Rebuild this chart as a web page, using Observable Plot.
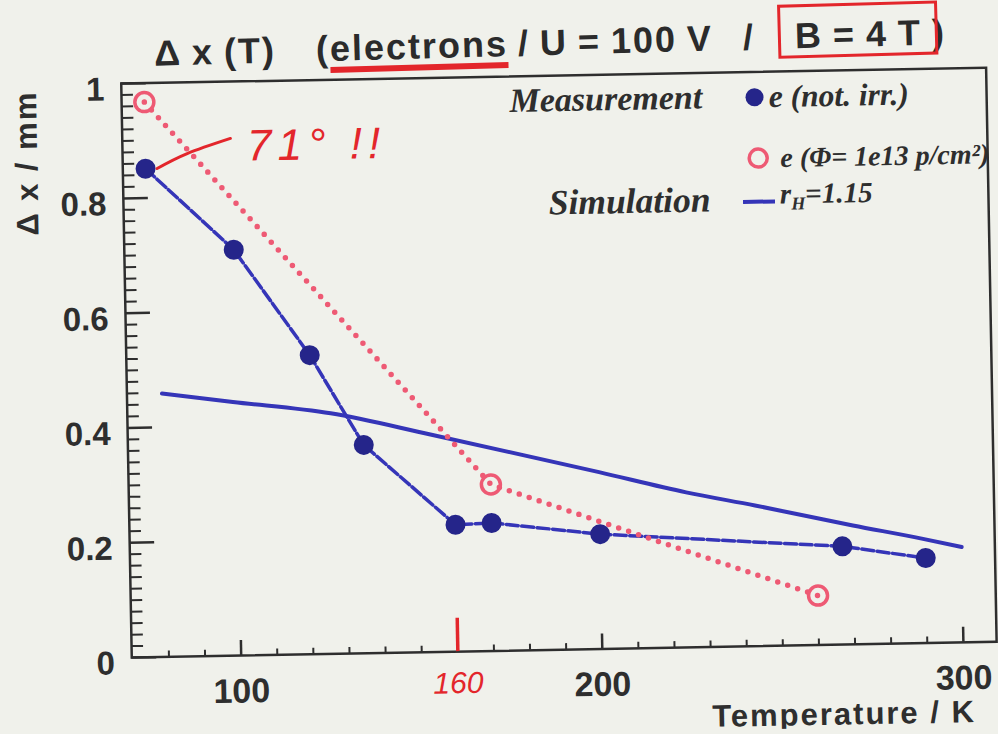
<!DOCTYPE html>
<html>
<head>
<meta charset="utf-8">
<script src="https://cdn.jsdelivr.net/npm/d3@7"></script>
<script src="https://cdn.jsdelivr.net/npm/@observablehq/plot@0.6"></script>
<style>
  html, body { margin: 0; padding: 0; background: #f0f1eb; }
  #page { position: relative; width: 998px; height: 734px; overflow: hidden;
          transform: rotate(-1.05deg); transform-origin: 499px 367px; }
  #title { position: absolute; left: 0; top: 0; width: 998px; height: 70px;
           transform: rotate(-0.5deg); transform-origin: 551px 56px; }
  #title .t { position: absolute; left: 160px; top: 25.5px; white-space: pre;
              font: bold 36px "Liberation Sans", Arial, sans-serif; line-height: 36px;
              letter-spacing: 2px; word-spacing: -2px; color: #2b2b2b; }
  #title .u { text-decoration: underline; text-decoration-color: #e3262b;
              text-decoration-thickness: 6px; text-underline-offset: 6px; }
  #title .box { position: relative; }
  #title .box::before { content: ""; position: absolute; left: -17px; right: -16px;
                        top: -11px; bottom: -2px; border: 3px solid #e3262b; }
  #chart { position: absolute; left: 0; top: 70px; }
</style>
</head>
<body>
<div id="page">
  <div id="title"><span class="t">Δ x (T)    (<span class="u">electrons</span> / U = 100 V   /    <span class="box">B = 4 T</span> )</span></div>
  <div id="chart"></div>
</div>
<script>
// Measurement, non-irradiated sensor (filled dots, dashed line)
const blueT  = [76, 100, 120.5, 135, 160, 170, 200, 267, 290];
const blueDx = [0.851, 0.707, 0.521, 0.363, 0.221, 0.223, 0.200, 0.171, 0.148];

// Measurement, irradiated sensor Φ = 1e13 p/cm² (open circles, dotted line)
const redT  = [76, 170, 260];
const redDx = [0.967, 0.290, 0.086];

// Simulation with Hall factor r_H = 1.15 (solid line)
const simT  = [79.4, 99, 126, 153.5, 200, 224, 243, 270, 289, 300];
const simDx = [0.459, 0.442, 0.419, 0.379, 0.308, 0.270, 0.245, 0.207, 0.182, 0.166];

// Axis ticks and labels
const xMajor = [100, 200, 300];
const xMinor = d3.range(80, 301, 10).filter(t => t % 100 !== 0);
const yMajor = [0, 0.2, 0.4, 0.6, 0.8, 1];
const yMajorLabels = ["0", "0.2", "0.4", "0.6", "0.8", "1"];
const yMinor = d3.range(0, 51).map(i => i / 50).filter(v => Math.round(v * 50) % 10 !== 0);

// Handwritten remarks
const noteMark  = [{T: 160, y1: 0, y2: 0.058}];
const noteLabel = [{T: 160, text: "160"}];
const noteText  = [{T: 104.2, dx: 0.862, text: "71° !!"}];
const noteCurveT  = [79.2, 87.6, 99.65];
const noteCurveDx = [0.851, 0.876, 0.901];

const blue = d3.zip(blueT, blueDx).map(([T, v]) => ({T, v}));
const red  = d3.zip(redT, redDx).map(([T, v]) => ({T, v}));
const sim  = d3.zip(simT, simDx).map(([T, v]) => ({T, v}));
const noteCurve = d3.zip(noteCurveT, noteCurveDx).map(([T, v]) => ({T, v}));

const ink = "#2e2e2e";
const blueLine = "#3535b8";
const blueDot = "#25258a";
const pink = "#ee5a74";
const pen = "#e3262b";
const sans = "Liberation Sans, Arial, sans-serif";
const serif = "Liberation Serif, Times New Roman, serif";

const W = 998, H = 664;
const mL = 126, mR = 7, mT = 6.2, mB = 83.7;
const plotW = W - mL - mR, plotH = H - mT - mB;

const chart = Plot.plot({
  width: W, height: H,
  marginLeft: mL, marginRight: mR, marginTop: mT, marginBottom: mB,
  style: {background: "transparent", fontFamily: sans, overflow: "visible"},
  x: {domain: [69.7, 309.2], axis: null},
  y: {domain: [0, 1], axis: null},
  marks: [
    // inward ticks
    Plot.tickX(xMinor, {x: d => d, insetTop: plotH - 6, stroke: ink, strokeWidth: 2}),
    Plot.tickX(xMajor, {x: d => d, insetTop: plotH - 15, stroke: ink, strokeWidth: 2.5}),
    Plot.tickY(yMinor, {y: d => d, insetRight: plotW - 12, stroke: ink, strokeWidth: 2}),
    Plot.tickY(yMajor, {y: d => d, insetRight: plotW - 25, stroke: ink, strokeWidth: 2.5}),
    Plot.frame({stroke: ink, strokeWidth: 2.5}),

    // tick labels
    Plot.text(xMajor, {x: d => d, text: d => String(d), frameAnchor: "bottom", dy: 36,
      lineAnchor: "middle", fontSize: 34, fontWeight: "bold", fill: ink}),
    Plot.text(yMajor, {y: d => d, text: (d, i) => yMajorLabels[i], frameAnchor: "left", dx: -17, dy: 6,
      textAnchor: "end", lineAnchor: "middle", fontSize: 33, fontWeight: "bold", fill: ink}),

    // axis titles
    Plot.text(["Temperature / K"], {frameAnchor: "bottom-right", dx: -22, dy: 70,
      textAnchor: "end", lineAnchor: "middle", fontSize: 31, fontWeight: "bold", fill: ink}),
    Plot.text(["Δ x / mm"], {frameAnchor: "top-left", dx: -85.5, dy: 150.5, rotate: -90,
      textAnchor: "start", lineAnchor: "bottom", fontSize: 31, fontWeight: "bold", fill: ink}),

    // simulation
    Plot.line(sim, {x: "T", y: "v", curve: "monotone-x", stroke: blueLine, strokeWidth: 4}),
    // measurements
    Plot.line(blue, {x: "T", y: "v", stroke: blueLine, strokeWidth: 3.5, strokeDasharray: "12,3.5"}),
    Plot.line(red, {x: "T", y: "v", stroke: pink, strokeWidth: 5.5, strokeDasharray: "0,10.5", strokeLinecap: "round"}),
    Plot.dot(blue, {x: "T", y: "v", r: 10, fill: blueDot}),
    Plot.dot(red, {x: "T", y: "v", r: 9.5, fill: "none", stroke: pink, strokeWidth: 3.5}),

    // legend
    Plot.text(["Measurement"], {frameAnchor: "top-left", dx: 580.6, dy: 35.5, textAnchor: "end",
      lineAnchor: "bottom", fontFamily: serif, fontStyle: "italic", fontWeight: "bold", fontSize: 34, fill: ink}),
    Plot.dot([0], {frameAnchor: "top-left", dx: 632.9, dy: 25.2, r: 9, fill: blueDot}),
    Plot.text(["e (not. irr.)"], {frameAnchor: "top-left", dx: 647.2, dy: 35.4, textAnchor: "start",
      lineAnchor: "bottom", fontFamily: serif, fontStyle: "italic", fontWeight: "bold", fontSize: 31.5, fill: ink}),
    Plot.dot([0], {frameAnchor: "top-left", dx: 635.5, dy: 86.2, r: 9, fill: "none", stroke: pink, strokeWidth: 3.5}),
    Plot.text(["e (Φ= 1e13 p/cm²)"], {frameAnchor: "top-left", dx: 657.7, dy: 95.6, textAnchor: "start",
      lineAnchor: "bottom", fontFamily: serif, fontStyle: "italic", fontWeight: "bold", fontSize: 28, fill: ink}),
    Plot.text(["Simulation"], {frameAnchor: "top-left", dx: 587, dy: 138.7, textAnchor: "end",
      lineAnchor: "bottom", fontFamily: serif, fontStyle: "italic", fontWeight: "bold", fontSize: 35.5, fill: ink}),

    // handwritten remarks
    Plot.ruleX(noteMark, {x: "T", y1: "y1", y2: "y2", stroke: pen, strokeWidth: 3.5}),
    Plot.text(noteLabel, {x: "T", text: "text", frameAnchor: "bottom", dy: 32, lineAnchor: "middle",
      fontSize: 30, fontStyle: "italic", fill: pen}),
    Plot.line(noteCurve, {x: "T", y: "v", curve: "natural", stroke: pen, strokeWidth: 3}),
    Plot.text(noteText, {x: "T", y: "dx", text: "text", textAnchor: "start", lineAnchor: "bottom",
      fontSize: 44, fontStyle: "italic", fill: pen})
  ]
});

const svg = d3.select(chart);
svg.selectAll("text").filter(function () { return this.textContent === "Δ x / mm"; })
  .style("letter-spacing", "2px");
svg.selectAll("text").filter(function () { return this.textContent === "Temperature / K"; })
  .style("letter-spacing", "2px");
svg.selectAll("text").filter(function () { return this.textContent === "71° !!"; })
  .style("letter-spacing", "6px");

// legend swatch and label for the simulation curve
const lg = svg.append("g");
lg.append("line")
  .attr("x1", mL + 620).attr("x2", mL + 652)
  .attr("y1", mT + 130.3).attr("y2", mT + 130.3)
  .attr("stroke", blueLine).attr("stroke-width", 4);
const rh = lg.append("text")
  .attr("x", mL + 657).attr("y", mT + 132.6)
  .attr("text-anchor", "start")
  .attr("font-family", serif).attr("font-style", "italic").attr("font-weight", "bold")
  .attr("font-size", 29).attr("fill", ink);
rh.append("tspan").text("r");
rh.append("tspan").attr("font-size", 18).attr("dy", 6).text("H");
rh.append("tspan").attr("dy", -6).text("=1.15");

document.getElementById("chart").appendChild(chart);
</script>
</body>
</html>
